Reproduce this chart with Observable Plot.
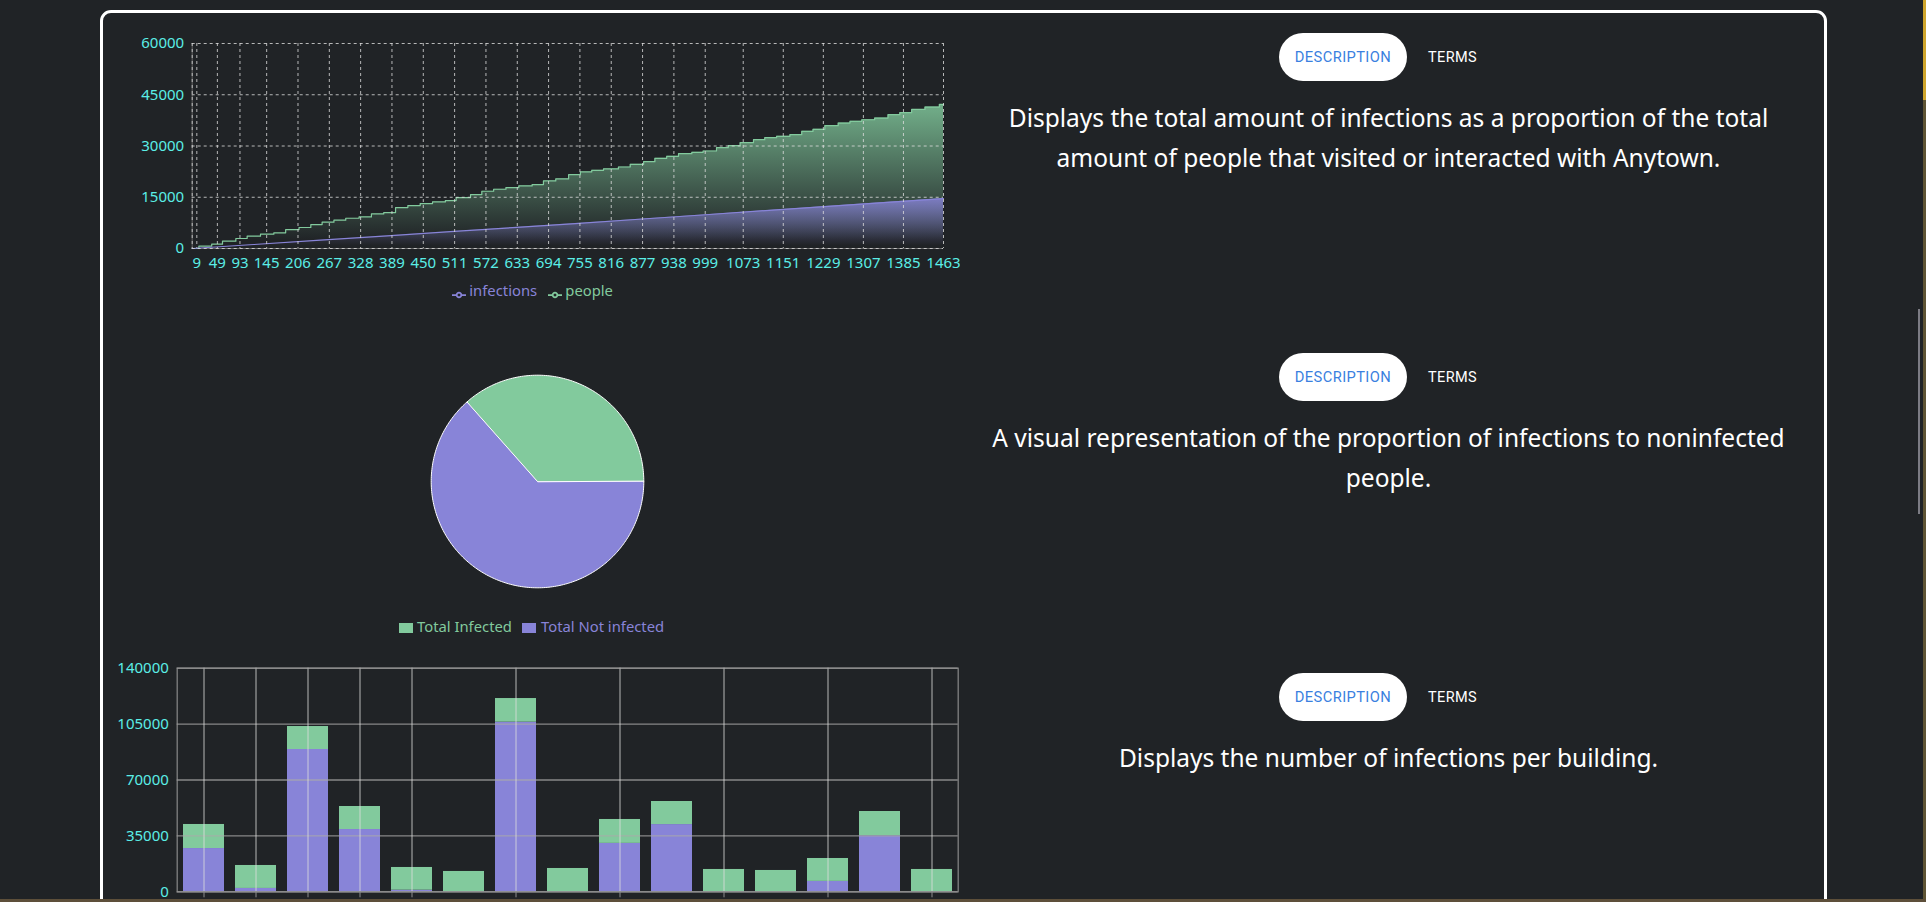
<!DOCTYPE html>
<html><head><meta charset="utf-8">
<script src="https://cdn.jsdelivr.net/npm/d3@7"></script>
<script src="https://cdn.jsdelivr.net/npm/@observablehq/plot@0.6"></script>
<style>
html,body{margin:0;padding:0;width:1926px;height:902px;overflow:hidden;background:#202326;font-family:"Noto Sans",sans-serif;}
#frame{position:absolute;left:100px;top:10px;width:1727px;height:1000px;box-sizing:border-box;border:3px solid #fff;border-radius:11px;}
.pill{position:absolute;width:128px;height:48px;border-radius:24px;background:#fff;color:#3a80e0;font-family:Roboto,sans-serif;font-size:14.7px;letter-spacing:0.4px;display:flex;align-items:center;justify-content:center;}
.terms{position:absolute;color:#fff;font-family:Roboto,sans-serif;font-size:14.5px;letter-spacing:0.4px;line-height:20px;}
.desc{position:absolute;left:938px;width:901px;text-align:center;color:#fff;font-size:24.5px;line-height:40px;}
.leg{position:absolute;font-size:14.8px;line-height:20px;white-space:nowrap;}
.sw{position:absolute;}
</style></head>
<body>
<svg width="0" height="0" style="position:absolute">
<defs>
<linearGradient id="gP" x1="0" y1="0" x2="0" y2="1"><stop offset="5%" stop-color="#82ca9d" stop-opacity="0.8"/><stop offset="95%" stop-color="#82ca9d" stop-opacity="0"/></linearGradient>
<linearGradient id="gI" x1="0" y1="0" x2="0" y2="1"><stop offset="5%" stop-color="#8884d8" stop-opacity="0.8"/><stop offset="95%" stop-color="#8884d8" stop-opacity="0"/></linearGradient>
</defs></svg>
<div id="frame"></div>
<div id="root"></div>
<script>
// ---------- data ----------
const xTickValues = [9,49,93,145,206,267,328,389,450,511,572,633,694,755,816,877,938,999,1073,1151,1229,1307,1385,1463];
const yTicksArea = [0,15000,30000,45000,60000];
const peopleX = [0,13,38,59,85,107,133,159,182,208,231,253,276,299,325,349,373,396,420,444,468,493,514,542,564,587,611,636,662,684,708,733,756,778,801,830,853,879,901,924,947,973,995,1021,1044,1067,1093,1115,1138,1164,1187,1209,1232,1258,1281,1304,1329,1355,1378,1401,1427,1455,1463];
const peopleY = [0,680,1270,2140,2920,3600,4190,4580,5550,6140,7010,7700,8280,8860,9250,10130,10520,11980,12570,13150,13640,14030,14900,15780,16750,17340,17820,18310,18700,19770,20360,21620,22400,22890,23280,23860,24640,25420,26400,26980,27760,28150,28540,29510,30100,30970,31850,32430,32820,33310,34290,34870,35940,36720,37210,37690,38180,39160,39740,40710,41400,42170,42170];
const infectionsX = [0,120,250,380,510,640,746,870,1000,1130,1260,1390,1463];
const infectionsY = [0,1170,2450,3720,4990,6270,7300,8560,9880,11230,12560,13880,14610];

const pieLabels = ["Total Infected","Total Not infected"];
const pieValues = [14610,25370];
const pieColors = ["#82ca9d","#8884d8"];

const buildings = ["Building 1","Building 2","Building 3","Building 4","Building 5","Building 6","Building 7","Building 8","Building 9","Building 10","Building 11","Building 12","Building 13","Building 14","Building 15"];
const infectedPerBuilding = [27100,2100,89100,39000,1000,0,106200,0,30300,42100,0,0,6500,35100,0];
const visitorsPerBuilding = [15050,14380,14390,14410,14230,12730,14810,14600,14980,14440,13980,13350,14360,15180,13980];
const yTicksBar = [0,35000,70000,105000,140000];
const shownBuildings = ["Building 1","Building 2","Building 3","Building 4","Building 5","Building 7","Building 9","Building 11","Building 13","Building 15"];

const descTexts = [
  ["Displays the total amount of infections as a proportion of the total","amount of people that visited or interacted with Anytown."],
  ["A visual representation of the proportion of infections to noninfected","people."],
  ["Displays the number of infections per building."]
];
// ---------- styles ----------
const CYAN = "#5beee6";
const root = document.getElementById("root");
function place(el, left, top){ el.style.position="absolute"; el.style.left=left+"px"; el.style.top=top+"px"; root.appendChild(el); return el; }

// ---------- area chart ----------
const people = peopleX.map((x,i)=>({x, v: peopleY[i]}));
const infections = infectionsX.map((x,i)=>({x, v: infectionsY[i]}));
const area = Plot.plot({
  width: 860, height: 250,
  marginLeft: 91.7, marginRight: 17, marginTop: 13, marginBottom: 32,
  style: {background:"transparent", color: CYAN, fontSize:"15px", fontFamily:"Noto Sans"},
  x: {domain:[0,1463]},
  y: {domain:[0,60000]},
  marks: [
    Plot.ruleY([0], {stroke:"#666"}),
    Plot.ruleX([0], {stroke:"#666"}),
    Plot.areaY(people, {x:"x", y:"v", curve:"step-after", fill:"url(#gP)"}),
    Plot.areaY(infections, {x:"x", y:"v", fill:"url(#gI)"}),
    Plot.lineY(people, {x:"x", y:"v", curve:"step-after", stroke:"#82ca9d", strokeWidth:1.2}),
    Plot.lineY(infections, {x:"x", y:"v", stroke:"#8884d8", strokeWidth:1.2}),
    Plot.gridX({ticks:[0,...xTickValues], stroke:"#ddd", strokeOpacity:0.8, strokeDasharray:"3,3"}),
    Plot.gridY({ticks:yTicksArea, stroke:"#ddd", strokeOpacity:0.8, strokeDasharray:"3,3"}),
    Plot.axisY({ticks:yTicksArea, tickSize:0, tickPadding:8, tickFormat:"d", label:null}),
    Plot.axisX({ticks:xTickValues, tickSize:0, tickPadding:8.5, tickFormat:"d", label:null})
  ]
});
place(area, 100, 30);

// legend for area chart
function lineIcon(color){
  return `<svg width="14" height="14" viewBox="0 0 32 32"><path stroke-width="4" fill="none" stroke="${color}" d="M0,16h10.67A5.33,5.33,0,1,1,21.33,16H32M21.33,16A5.33,5.33,0,1,1,10.67,16"/></svg>`;
}
const areaLegend = [["infections","#8884d8",451.7,469.3],["people","#82ca9d",547.7,565.3]];
areaLegend.forEach(([t,c,ix,tx])=>{
  const ic = document.createElement("div"); ic.className="sw"; ic.innerHTML=lineIcon(c); place(ic, ix, 284.5);
  const s = document.createElement("span"); s.className="leg"; s.style.color=c; s.textContent=t; place(s, tx, 280.3);
});

// ---------- pie chart ----------
const R = 106.3;
const total = d3.sum(pieValues);
let a0 = 0;
const pieMarks = [];
pieValues.forEach((v,i)=>{
  const a1 = a0 + v/total*2*Math.PI;
  const pts = [{x:0,y:0}];
  const n = Math.ceil((a1-a0)/(Math.PI/180));
  for(let k=0;k<=n;k++){ const a = a0 + (a1-a0)*k/n; pts.push({x:Math.cos(a), y:Math.sin(a)}); }
  pieMarks.push(Plot.line(pts, {x:"x", y:"y", fill:pieColors[i], stroke:"#fff", strokeWidth:1, curve:"linear-closed"}));
  a0 = a1;
});
const pie = Plot.plot({
  width:320, height:240, margin:0,
  style:{background:"transparent"},
  x:{domain:[-160/R,160/R], axis:null},
  y:{domain:[-120/R,120/R], axis:null},
  marks: pieMarks
});
place(pie, 536.7-160, 480.7-120);
const pieLeg = [[0,399,417],[1,522,541]];
pieLeg.forEach(([i,sx,tx])=>{
  const sq = document.createElement("div"); sq.style.width="14px"; sq.style.height="10px"; sq.style.background=pieColors[i]; place(sq, sx, 623.3);
  const s = document.createElement("span"); s.className="leg"; s.style.color=pieColors[i]; s.textContent=pieLabels[i]; place(s, tx, 616.3);
});

// ---------- bar chart ----------
const barRows = [];
buildings.forEach((b,i)=>{
  barRows.push({building:b, series:"infected", value:infectedPerBuilding[i]});
  barRows.push({building:b, series:"visitors", value:visitorsPerBuilding[i]});
});
const bar = Plot.plot({
  width:880, height:250,
  marginLeft:86.7, marginRight:12.3, marginTop:12.7, marginBottom:13.7,
  style:{background:"transparent", color:CYAN, fontSize:"15px", fontFamily:"Noto Sans"},
  x:{type:"band", domain:buildings, paddingInner:0.2126, paddingOuter:0.1063},
  y:{domain:[0,140000]},
  color:{domain:["infected","visitors"], range:["#8884d8","#82ca9d"]},
  marks:[
    Plot.barY(barRows, {x:"building", y:"value", fill:"series"}),
    Plot.gridY({ticks:yTicksBar, stroke:"#aaa", strokeOpacity:0.75, strokeWidth:1.3}),
    Plot.gridX({ticks:shownBuildings, stroke:"#ddd", strokeOpacity:0.8}),
    Plot.frame({stroke:"#999", strokeOpacity:0.8, strokeWidth:1.3}),
    Plot.axisY({ticks:yTicksBar, tickSize:0, tickPadding:8.4, tickFormat:"d", label:null}),
    Plot.axisX({ticks:shownBuildings, tickSize:6, stroke:"#8c8c8c", tickFormat:()=>"", label:null})
  ]
});
place(bar, 90, 655);

// ---------- right column ----------
descTexts.forEach((lines,si)=>{
  const off = si*320;
  const p = document.createElement("div"); p.className="pill"; p.textContent="DESCRIPTION"; place(p, 1279, 33+off);
  const t = document.createElement("div"); t.className="terms"; t.textContent="TERMS"; place(t, 1428, 48+off);
  const d = document.createElement("div"); d.className="desc";
  lines.forEach((ln,k)=>{ const s=document.createElement("span"); s.textContent=ln; d.appendChild(s); if(k<lines.length-1) d.appendChild(document.createElement("br")); });
  place(d, 938, 98.3+off);
});

// scrollbar + window edges
const sb = document.createElement("div"); sb.style.cssText="width:2px;height:205px;background:#7c7c84;"; place(sb,1918,309);
const re = document.createElement("div"); re.style.cssText="width:3px;height:902px;background:#5e5434;"; place(re,1923,0);
const re2 = document.createElement("div"); re2.style.cssText="width:3px;height:100px;background:#cfa52c;"; place(re2,1923,0);
const be = document.createElement("div"); be.style.cssText="width:1926px;height:3px;background:#5d4f3a;"; place(be,0,899);
</script>
</body></html>
